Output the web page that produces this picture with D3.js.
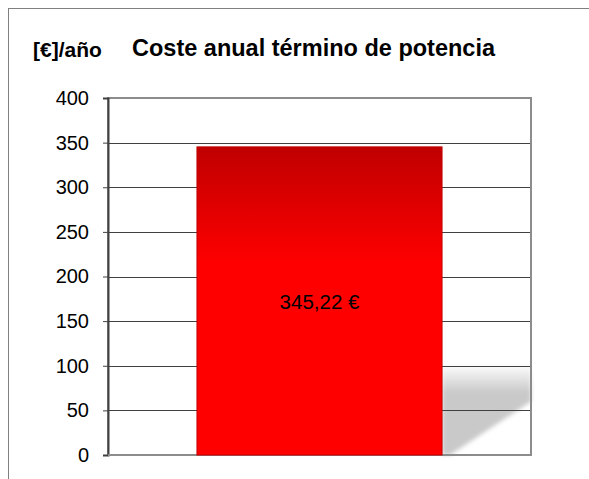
<!DOCTYPE html>
<meta charset="utf-8">
<head>
<style>
body { margin: 0; background: #fff; }
text { font-family: "Liberation Sans", Arial, sans-serif; }
</style>
</head>
<body>
<script src="https://d3js.org/d3.v7.min.js"></script>
<div id="chart"></div>
<script>
  var categories = ["Término de potencia"];
  var values = [345.22];
  var labels = ["345,22 €"];
  var yTicks = [0, 50, 100, 150, 200, 250, 300, 350, 400];

  var width = 589, height = 479;
  var m = {left: 108, right: 58, top: 98, bottom: 24};

  var svg = d3.select("#chart").append("svg")
      .attr("width", width).attr("height", height);

  var x = d3.scaleBand().domain(categories)
      .range([m.left, width - m.right]).paddingInner(0).paddingOuter(0.363);
  var y = d3.scaleLinear().domain([0, 400]).range([height - m.bottom, m.top]);

  var defs = svg.append("defs");
  var grad = defs.append("linearGradient").attr("id", "barGrad")
      .attr("x1", 0).attr("y1", 0).attr("x2", 0).attr("y2", 1);
  grad.append("stop").attr("offset", "0%").attr("stop-color", "#c00000");
  grad.append("stop").attr("offset", "38%").attr("stop-color", "#ff0000");
  grad.append("stop").attr("offset", "100%").attr("stop-color", "#ff0000");

  var sh = defs.append("linearGradient").attr("id", "shadowGrad")
      .attr("gradientUnits", "userSpaceOnUse")
      .attr("x1", 0).attr("y1", y(102)).attr("x2", 0).attr("y2", y(70));
  sh.append("stop").attr("offset", "0%").attr("stop-color", "#ffffff");
  sh.append("stop").attr("offset", "100%").attr("stop-color", "#c9c9c9");
  defs.append("filter").attr("id", "blur")
      .attr("x", "-10%").attr("y", "-10%").attr("width", "120%").attr("height", "120%")
    .append("feGaussianBlur").attr("stdDeviation", 2);

  // outer chart border
  svg.append("rect").attr("x", 8.5).attr("y", 8.5)
      .attr("width", width).attr("height", height)
      .attr("fill", "none").attr("stroke", "#808080");

  // plot frame
  svg.append("rect").attr("x", m.left).attr("y", y(400))
      .attr("width", width - m.right - m.left).attr("height", y(0) - y(400))
      .attr("fill", "#fff").attr("stroke", "#8c8c8c").attr("stroke-width", 2);

  // shadow behind bar
  var bx = x(categories[0]), bw = x.bandwidth();
  svg.append("path")
      .attr("d", "M" + (bx + bw) + "," + y(102) + "L" + (width - m.right) + "," + y(102) +
                 "L" + (width - m.right) + "," + y(60) +
                 "L" + (bx + bw + 8) + "," + y(0) + "L" + (bx + bw) + "," + y(0) + "Z")
      .attr("fill", "url(#shadowGrad)").attr("filter", "url(#blur)");

  // gridlines
  svg.append("g").selectAll("line").data(yTicks.filter(function (d) { return d > 0 && d < 400; }))
    .enter().append("line")
      .attr("x1", m.left).attr("x2", width - m.right)
      .attr("y1", function (d) { return Math.round(y(d)) + 0.5; })
      .attr("y2", function (d) { return Math.round(y(d)) + 0.5; })
      .attr("stroke", "#404040").attr("stroke-width", 1);

  // right frame edge over the shadow
  svg.append("line").attr("x1", width - m.right).attr("x2", width - m.right)
      .attr("y1", y(400)).attr("y2", y(0)).attr("stroke", "#8c8c8c").attr("stroke-width", 2);

  // axis
  var axis = svg.append("g").attr("transform", "translate(" + m.left + ",0)")
      .call(d3.axisLeft(y).tickValues(yTicks).tickSize(5).tickPadding(14));
  axis.select(".domain").attr("stroke", "#404040").attr("stroke-width", 2);
  axis.selectAll(".tick line").attr("stroke", "#404040");
  axis.selectAll(".tick text").attr("font-size", 20).attr("fill", "#000")
      .style("font-family", "'Liberation Sans', Arial, sans-serif");

  // bottom frame line
  svg.append("line").attr("x1", m.left).attr("x2", width - m.right)
      .attr("y1", y(0)).attr("y2", y(0)).attr("stroke", "#8c8c8c").attr("stroke-width", 2);

  // bars
  svg.append("g").selectAll("rect").data(values).enter().append("rect")
      .attr("x", function (d, i) { return x(categories[i]); })
      .attr("y", function (d) { return y(d); })
      .attr("width", x.bandwidth())
      .attr("height", function (d) { return y(0) - y(d); })
      .attr("fill", "url(#barGrad)")
      .attr("stroke", "#c00000").attr("stroke-width", 1);

  svg.append("g").selectAll("text").data(values).enter().append("text")
      .attr("x", function (d, i) { return x(categories[i]) + x.bandwidth() / 2; })
      .attr("y", function (d) { return y(d / 2) + 8; })
      .attr("text-anchor", "middle").attr("font-size", 20.5).attr("fill", "#000")
      .text(function (d, i) { return labels[i]; });

  svg.append("text").attr("x", 132).attr("y", 56)
      .attr("font-size", 23.5).attr("font-weight", "bold")
      .text("Coste anual término de potencia");
  svg.append("text").attr("x", 33).attr("y", 57)
      .attr("font-size", 21).attr("font-weight", "bold")
      .text("[€]/año");
</script>
</body>
